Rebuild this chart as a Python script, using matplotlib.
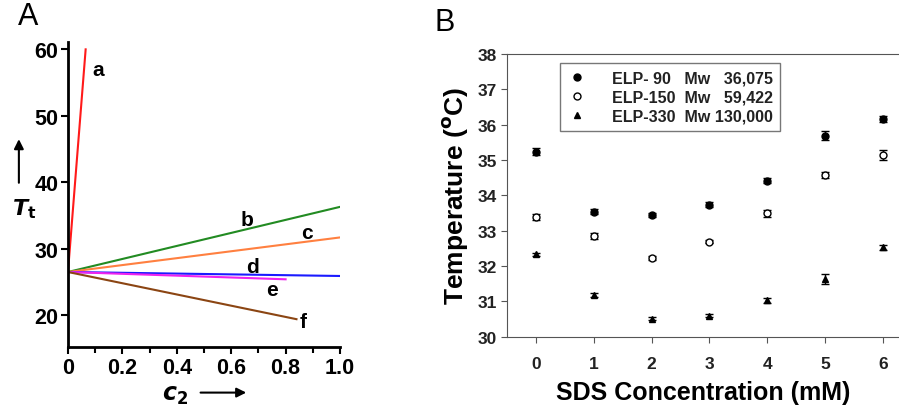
import numpy as np
import matplotlib.pyplot as plt
from matplotlib.ticker import MultipleLocator

plt.rcParams['font.family'] = ['Liberation Sans', 'DejaVu Sans']

# panel A: lines starting from common point at c2 = 0
line_names = ['a', 'b', 'c', 'd', 'e', 'f']
line_x_end = [0.065, 1.0, 1.0, 1.0, 0.8, 0.84]
line_y_end = [60.0, 36.3, 31.7, 25.9, 25.4, 19.4]
line_colors = ['#ff1a1a', '#228b22', '#ff8040', '#1a1aff', '#ee22ee', '#8b4513']
label_x = [0.11, 0.66, 0.88, 0.68, 0.75, 0.865]
label_y = [57.0, 34.4, 32.5, 27.4, 23.9, 19.0]
x0, y0 = 0.0, 26.5

# panel B: SDS data
sds = [0, 1, 2, 3, 4, 5, 6]
elp90 = [35.24, 33.54, 33.45, 33.74, 34.42, 35.69, 36.16]
elp90_err = [0.10, 0.08, 0.05, 0.06, 0.06, 0.12, 0.08]
elp150 = [33.38, 32.86, 32.23, 32.69, 33.49, 34.58, 35.14]
elp150_err = [0.08, 0.08, 0.05, 0.05, 0.09, 0.08, 0.14]
elp330 = [32.33, 31.19, 30.51, 30.60, 31.03, 31.64, 32.53]
elp330_err = [0.05, 0.06, 0.04, 0.04, 0.06, 0.14, 0.08]
legend_labels = ['ELP- 90   Mw   36,075', 'ELP-150  Mw   59,422', 'ELP-330  Mw 130,000']

fig = plt.figure(figsize=(8.99, 4.10), dpi=100)

# ---- panel A
ax = fig.add_axes([0.0756, 0.151, 0.3026, 0.744])
for n, xe, ye, col in zip(line_names, line_x_end, line_y_end, line_colors):
    ax.plot([x0, xe], [y0, ye], color=col, lw=1.5)
for n, lx, ly in zip(line_names, label_x, label_y):
    ax.text(lx, ly, n, fontsize=15, fontweight='bold', ha='center', va='center')
ax.set_xlim(0, 1.0)
ax.set_ylim(15.2, 61.1)
ax.spines['top'].set_visible(False)
ax.spines['right'].set_visible(False)
for s in ['left', 'bottom']:
    ax.spines[s].set_linewidth(2)
ax.set_xticks([0, 0.2, 0.4, 0.6, 0.8, 1.0])
ax.set_xticklabels(['0', '0.2', '0.4', '0.6', '0.8', '1.0'])
ax.xaxis.set_minor_locator(MultipleLocator(0.1))
ax.set_yticks([20, 30, 40, 50, 60])
ax.tick_params(width=1.5, length=5, labelsize=15.5, pad=2)
ax.tick_params(which='minor', width=1.5, length=4)
for t in ax.get_xticklabels() + ax.get_yticklabels():
    t.set_fontweight('bold')

fig.text(0.02, 0.94, 'A', fontsize=22)
fig.text(0.027, 0.49, r'$\boldsymbol{T}_{\mathbf{t}}$', fontsize=16, ha='center', va='center')
fig.text(0.195, 0.035, r'$\boldsymbol{c}_{\mathbf{2}}$', fontsize=17, ha='center', va='center')
fig.add_artist(plt.Annotation('', xy=(0.021, 0.665), xytext=(0.021, 0.545),
                              xycoords='figure fraction',
                              arrowprops=dict(arrowstyle='-|>', color='black', lw=1.5, mutation_scale=14)))
fig.add_artist(plt.Annotation('', xy=(0.277, 0.04), xytext=(0.220, 0.04),
                              xycoords='figure fraction',
                              arrowprops=dict(arrowstyle='-|>', color='black', lw=1.5, mutation_scale=14)))

# ---- panel B
bx = fig.add_axes([0.564, 0.176, 0.436, 0.690])
ek = dict(ecolor='black', elinewidth=1, capsize=3, linestyle='none')
h1 = bx.errorbar(sds, elp90, yerr=elp90_err, fmt='o', ms=5, mfc='black', mec='black', **ek)
h2 = bx.errorbar(sds, elp150, yerr=elp150_err, fmt='o', ms=5, mfc='white', mec='black', **ek)
h3 = bx.errorbar(sds, elp330, yerr=elp330_err, fmt='^', ms=5, mfc='black', mec='black', **ek)
bx.set_xlim(-0.5, 6.28)
bx.set_ylim(30, 38)
bx.set_xticks(sds)
bx.set_yticks(range(30, 39))
bx.spines['right'].set_visible(False)
for s in ['left', 'bottom', 'top']:
    bx.spines[s].set_color('#555555')
bx.tick_params(colors='#555555', labelcolor='#222222', labelsize=12.5, length=4)
bx.tick_params(axis='x', pad=10)
for t in bx.get_xticklabels() + bx.get_yticklabels():
    t.set_fontweight('bold')
bx.set_xlabel('SDS Concentration (mM)', fontsize=18, fontweight='bold', labelpad=6)
bx.set_ylabel('Temperature ($^{\\mathbf{o}}$C)', fontsize=19, fontweight='bold', labelpad=5)
leg = bx.legend([h1[0], h2[0], h3[0]], legend_labels, loc='upper left',
                bbox_to_anchor=(0.115, 0.995), frameon=True, fancybox=False,
                handlelength=1.2, handletextpad=1.6, borderpad=0.45, labelspacing=0.25,
                prop={'weight': 'bold', 'size': 11.5})
leg.get_frame().set_edgecolor('#555555')
leg.get_frame().set_linewidth(1)
for t in leg.get_texts():
    t.set_color('#222222')
fig.text(0.483, 0.925, 'B', fontsize=22)

fig.savefig('out.png', dpi=100)
